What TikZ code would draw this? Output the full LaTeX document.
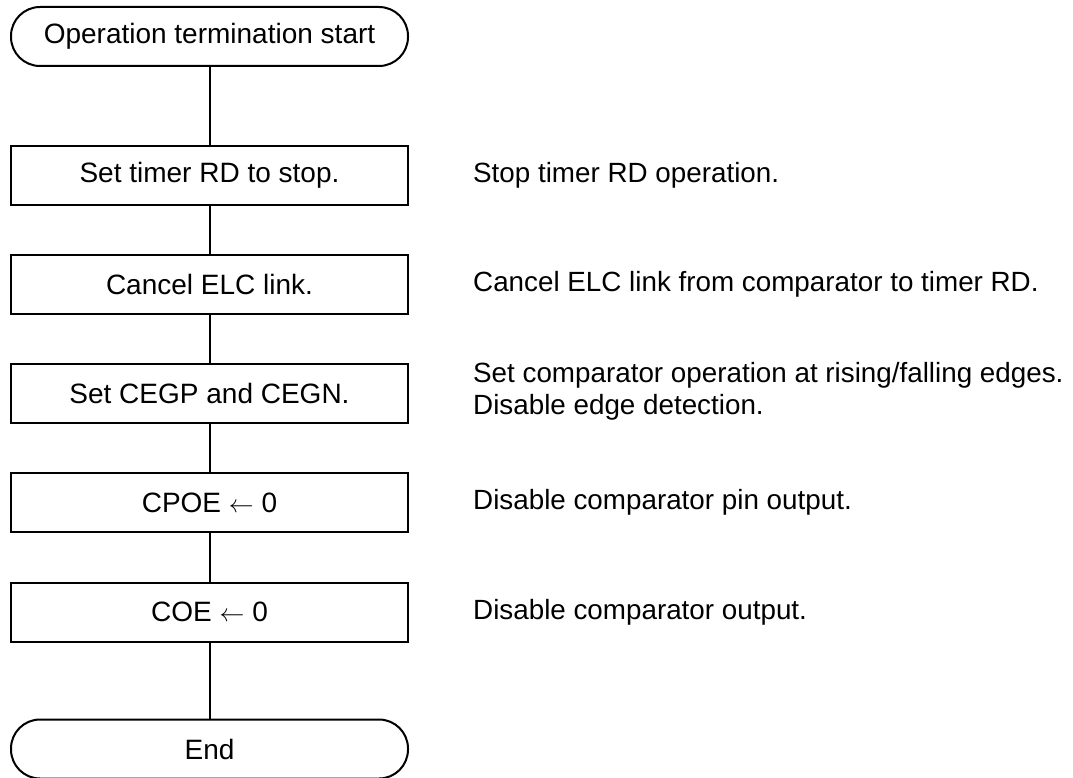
\documentclass[tikz,border=0pt]{standalone}
\usepackage{fontspec}
\setmainfont{Liberation Sans}
\begin{document}
\begin{tikzpicture}[x=1pt,y=1pt,
  flow/.style={draw=black, line width=2pt, minimum width=397pt, minimum height=59pt, inner sep=0pt, font=\fontsize{28}{33}\selectfont},
  term/.style={flow, rounded corners=29pt},
  stepbox/.style={flow},
  note/.style={anchor=west, inner sep=0pt, align=left, font=\fontsize{27.8}{32.5}\selectfont},
  link/.style={draw=black, line width=2pt}]
\useasboundingbox (0,0) rectangle (1073,-778);
\node[term] (start) at (209.5,-36.5) {Operation termination start};
\node[stepbox] (b1) at (209.5,-175.5) {Set timer RD to stop.};
\node[stepbox] (b2) at (209.5,-284.5) {Cancel ELC link.};
\node[stepbox] (b3) at (209.5,-393.5) {Set CEGP and CEGN.};
\node[stepbox] (b4) at (209.5,-502.5) {CPOE $\leftarrow$ 0};
\node[stepbox] (b5) at (209.5,-612) {COE $\leftarrow$ 0};
\node[term] (end) at (209.5,-749) {End};
\draw[link] (start) -- (b1);
\draw[link] (b1) -- (b2);
\draw[link] (b2) -- (b3);
\draw[link] (b3) -- (b4);
\draw[link] (b4) -- (b5);
\draw[link] (b5) -- (end);
\node[note] (n1) at (473,-175.5) {Stop timer RD operation.};
\node[note] (n2) at (473,-284.5) {Cancel ELC link from comparator to timer RD.};
\node[note] (n3) at (473,-391.5) {Set comparator operation at rising/falling edges.\\Disable edge detection.};
\node[note] (n4) at (473,-502.5) {Disable comparator pin output.};
\node[note] (n5) at (473,-612) {Disable comparator output.};
\end{tikzpicture}
\end{document}
